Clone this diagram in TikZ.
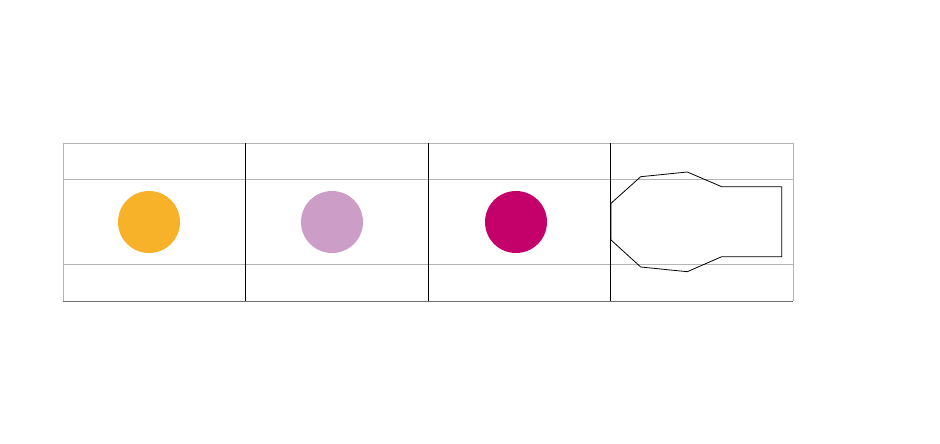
\documentclass[tikz,border=0pt]{standalone}
\begin{document}
\begin{tikzpicture}[x=1pt,y=-1pt,
  grayline/.style={draw={rgb,255:red,180;green,180;blue,180},line width=0.8pt},
  blackline/.style={draw=black,line width=0.7pt},
  dot/.style={circle,minimum size=62pt,inner sep=0pt,draw=none}]
\useasboundingbox (0,0) rectangle (940,444);
\definecolor{corange}{RGB}{247,178,42}
\definecolor{clilac}{RGB}{204,157,199}
\definecolor{cmagenta}{RGB}{196,0,107}
% grid
\draw[grayline] (63,143) -- (793,143);
\draw[grayline] (63,179) -- (793,179);
\draw[grayline] (63,264) -- (793,264);
\draw[grayline] (63,143) -- (63,301);
\draw[grayline] (793,143) -- (793,301);
\draw[draw={rgb,255:red,110;green,110;blue,110},line width=0.8pt] (63,301) -- (793,301);
\draw[blackline] (245,143) -- (245,301);
\draw[blackline] (428,143) -- (428,301);
\draw[blackline] (610,143) -- (610,301);
% dots
\node[dot,fill=corange] (d1) at (149,222) {};
\node[dot,fill=clilac] (d2) at (332,222) {};
\node[dot,fill=cmagenta] (d3) at (516,222) {};
% shape
\draw[blackline,line width=0.8pt,line join=round] (611,203.3) -- (640.7,176.7) -- (687.3,172) -- (721.7,186.7) -- (781.7,186.7) -- (781.7,256.7) -- (721.7,256.7) -- (687.3,271.7) -- (640.7,267) -- (611,240) -- cycle;
\end{tikzpicture}
\end{document}
